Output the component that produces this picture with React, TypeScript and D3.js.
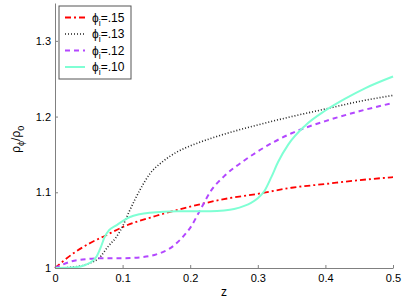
import React, { useEffect, useRef } from 'react';
import * as d3 from 'd3';

// rho_phi / rho_0 against z, for four phi_i values
const zRed = [0, 0.025, 0.05, 0.075, 0.1, 0.15, 0.2, 0.25, 0.3, 0.35, 0.4, 0.45, 0.5];
const vRed = [1.0, 1.018, 1.032, 1.043, 1.054, 1.069, 1.081, 1.091, 1.098, 1.106, 1.111, 1.116, 1.12];

const zBlack = [0, 0.025, 0.05, 0.065, 0.08, 0.09, 0.1, 0.11, 0.125, 0.14, 0.16, 0.18, 0.205, 0.23, 0.255, 0.3, 0.35, 0.4, 0.45, 0.5];
const vBlack = [1.0, 1.001, 1.006, 1.013, 1.03, 1.04, 1.055, 1.075, 1.102, 1.124, 1.141, 1.153, 1.163, 1.171, 1.178, 1.189, 1.2, 1.21, 1.22, 1.228];

const zPurple = [0, 0.01, 0.025, 0.05, 0.075, 0.1, 0.125, 0.15, 0.175, 0.19, 0.2, 0.215, 0.23, 0.25, 0.28, 0.3, 0.35, 0.4, 0.45, 0.5];
const vPurple = [1.0, 1.004, 1.009, 1.012, 1.013, 1.013, 1.014, 1.018, 1.029, 1.042, 1.053, 1.077, 1.101, 1.121, 1.142, 1.154, 1.178, 1.194, 1.207, 1.218];

const zCyan = [0, 0.03, 0.045, 0.055, 0.062, 0.068, 0.073, 0.08, 0.09, 0.1, 0.11, 0.125, 0.14, 0.18, 0.23, 0.25, 0.265, 0.28, 0.29, 0.3, 0.31, 0.32, 0.33, 0.345, 0.37, 0.4, 0.43, 0.46, 0.5];
const vCyan = [1.0, 1.001, 1.004, 1.009, 1.016, 1.028, 1.04, 1.05, 1.056, 1.062, 1.067, 1.071, 1.073, 1.075, 1.075, 1.076, 1.078, 1.082, 1.086, 1.092, 1.102, 1.12, 1.14, 1.163, 1.188, 1.208, 1.224, 1.238, 1.253];

const legendLabels = ['.15', '.13', '.12', '.10'];
const xTicks = [0, 0.1, 0.2, 0.3, 0.4, 0.5];
const yTicks = [1, 1.1, 1.2, 1.3];

const series = [
  { z: zRed, v: vRed, color: '#ff0000', dash: '6,3,2,3', width: 1.8 },
  { z: zBlack, v: vBlack, color: '#222222', dash: '1,2', width: 1.6 },
  { z: zPurple, v: vPurple, color: '#b347ff', dash: '5,4', width: 2 },
  { z: zCyan, v: vCyan, color: '#7fffd4', dash: null, width: 2 },
];

const App: React.FC = () => {
  const svgRef = useRef<SVGSVGElement>(null);

  useEffect(() => {
    if (!svgRef.current) return;
    const svg = d3.select(svgRef.current);
    svg.selectAll('*').remove();

    const margin = { top: 3, right: 11, bottom: 32, left: 55 };
    const width = 404 - margin.left - margin.right;
    const height = 300 - margin.top - margin.bottom;
    const font = 'Liberation Sans, Arial, sans-serif';

    const x = d3.scaleLinear().domain([0, 0.5]).range([0, width]);
    const y = d3.scaleLinear().domain([1, 1.35]).range([height, 0]);

    const g = svg.append('g').attr('transform', `translate(${margin.left},${margin.top})`);

    // Curves
    series.forEach(s => {
      const pts = s.z.map((z, i) => [z, s.v[i]] as [number, number]);
      const line = d3.line<[number, number]>()
        .x(d => x(d[0]))
        .y(d => y(d[1]))
        .curve(d3.curveMonotoneX);
      g.append('path')
        .attr('d', line(pts))
        .attr('fill', 'none')
        .attr('stroke', s.color)
        .attr('stroke-width', s.width)
        .attr('stroke-dasharray', s.dash ?? null);
    });

    // Axes, ticks pointing inward
    const xAxis = g.append('g')
      .attr('transform', `translate(0,${height})`)
      .call(d3.axisBottom(x).tickValues(xTicks).tickSizeInner(-3).tickSizeOuter(0).tickPadding(6)
        .tickFormat(d => (d === 0 ? '0' : d3.format('.1f')(d as number))));
    const yAxis = g.append('g')
      .call(d3.axisLeft(y).tickValues(yTicks).tickSizeInner(-3).tickSizeOuter(0).tickPadding(4)
        .tickFormat(d => (d === 1 ? '1' : d3.format('.1f')(d as number))));

    [xAxis, yAxis].forEach(a => {
      a.select('.domain').attr('stroke', '#808080');
      a.selectAll('.tick line').attr('stroke', '#808080');
      a.selectAll('.tick text').attr('fill', '#000').style('font-family', font).style('font-size', '11px');
    });

    // Axis labels
    svg.append('text')
      .attr('x', margin.left + x(0.25))
      .attr('y', 296)
      .attr('text-anchor', 'middle')
      .style('font-family', font)
      .style('font-size', '12px')
      .text('z');

    const yl = svg.append('text')
      .attr('transform', `translate(20,${margin.top + y(1.17)}) rotate(-90)`)
      .attr('text-anchor', 'middle')
      .style('font-family', font)
      .style('font-size', '12px');
    yl.append('tspan').text('ρ');
    yl.append('tspan').attr('dy', 4).style('font-size', '9px').text('ϕ');
    yl.append('tspan').attr('dy', -4).text('/ρ');
    yl.append('tspan').attr('dy', 4).style('font-size', '9px').text('0');

    // Legend
    const lg = svg.append('g').attr('transform', 'translate(59,6)');
    lg.append('rect')
      .attr('width', 72)
      .attr('height', 73)
      .attr('fill', '#fff')
      .attr('stroke', '#555')
      .attr('stroke-width', 1);
    series.forEach((s, i) => {
      const cy = 11.5 + i * 16.5;
      lg.append('line')
        .attr('x1', 6).attr('x2', 26)
        .attr('y1', cy).attr('y2', cy)
        .attr('stroke', s.color)
        .attr('stroke-width', s.width)
        .attr('stroke-dasharray', s.dash ?? null);
      const t = lg.append('text')
        .attr('x', 33)
        .attr('y', cy + 4)
        .style('font-family', font)
        .style('font-size', '12px');
      t.append('tspan').text('ϕ');
      t.append('tspan').attr('dy', 4).style('font-size', '9px').text('i');
      t.append('tspan').attr('dy', -4).text('=' + legendLabels[i]);
    });
  }, []);

  return (
    <svg
      ref={svgRef}
      width={404}
      height={300}
      style={{ position: 'absolute', left: 0, top: 0, background: '#fff' }}
    />
  );
};

export default App;
